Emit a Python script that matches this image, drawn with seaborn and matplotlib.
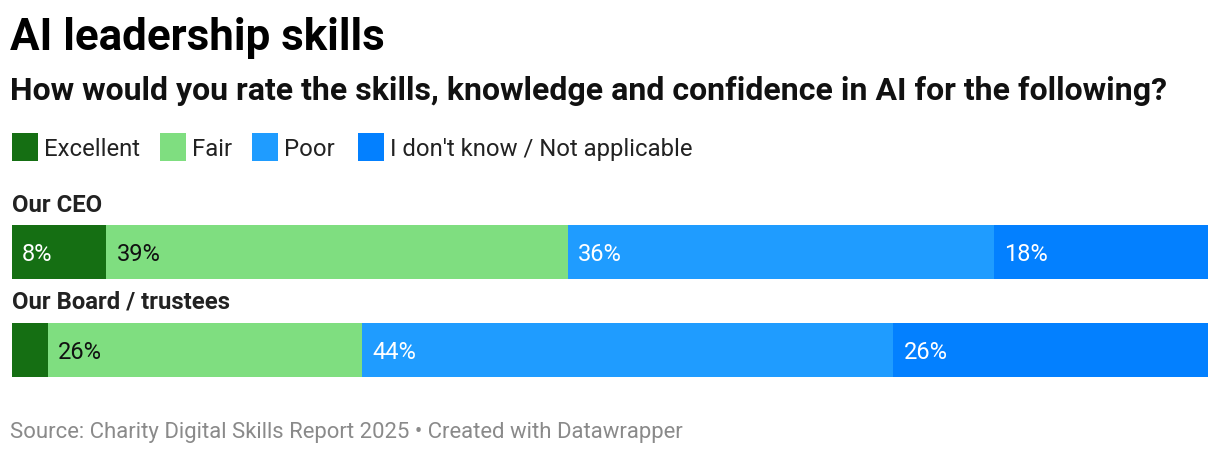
import matplotlib
matplotlib.use("Agg")
import matplotlib.pyplot as plt
import matplotlib.transforms as mtransforms
from matplotlib.patches import Rectangle
import seaborn as sns
import pandas as pd
import numpy as np

# ---- data ----
categories = ["Our CEO", "Our Board / trustees"]
series = ["Excellent", "Fair", "Poor", "I don't know / Not applicable"]
excellent = [7.9, 3.0]
fair = [38.6, 26.3]
poor = [35.6, 44.4]
dont_know = [17.9, 26.3]
colors = ["#156f13", "#7fde80", "#1f9cff", "#0380ff"]
label_colors = ["white", "#111111", "white", "white"]

sns.set_theme(style="white")
plt.rcParams["font.family"] = ["Roboto", "DejaVu Sans"]

W, H = 1220, 456
fig = plt.figure(figsize=(W / 100, H / 100), dpi=100)

def fx(px):
    return px / W

def fy(py):
    return 1 - py / H

# axes covering bar area
x0, x1 = 12, 1208
y_top, y_bot = 226, 378
ax = fig.add_axes([fx(x0), fy(y_bot), fx(x1 - x0), (y_bot - y_top) / H])

vals = [excellent, fair, poor, dont_know]
cum = np.cumsum(np.array(vals), axis=0)  # shape (4, 2)
total = cum[-1]

# draw from the largest cumulative to smallest so layers overlay
for i in range(len(series) - 1, -1, -1):
    df = pd.DataFrame({"cat": categories, "val": cum[i]})
    sns.barplot(data=df, x="val", y="cat", orient="h", color=colors[i],
                width=0.551, saturation=1, ax=ax, linewidth=0, edgecolor="none")

ax.set_xlim(0, max(total))
ax.set_ylim(1.2755, -0.2755)
ax.axis("off")

# value labels
offset = mtransforms.ScaledTranslation(10 / 100, 0, fig.dpi_scale_trans)
for i in range(len(series)):
    for j in range(len(categories)):
        v = vals[i][j]
        if v < 5:
            continue
        left = cum[i][j] - v
        ax.text(left, j + 0.02, f"{round(v):d}%", ha="left", va="center",
                fontsize=17, color=label_colors[i],
                transform=ax.transData + offset)

# row labels
row_label_y = [212, 309]
for cat, yb in zip(categories, row_label_y):
    fig.text(fx(12), fy(yb), cat, fontsize=17.2, fontweight="bold", color="#222222",
             ha="left", va="baseline")

# title & subtitle
fig.text(fx(10), fy(50), "AI leadership skills", fontsize=31.6, fontweight="bold",
         color="#000000", ha="left", va="baseline")
fig.text(fx(10), fy(100), "How would you rate the skills, knowledge and confidence in AI for the following?",
         fontsize=23, fontweight="bold", color="#111111", ha="left", va="baseline")

# legend
leg_sq_x = [12, 160, 252, 358]
for name, c, sx in zip(series, colors, leg_sq_x):
    fig.patches.append(Rectangle((fx(sx), fy(162)), fx(26), 28 / H, transform=fig.transFigure,
                                 facecolor=c, edgecolor="none"))
    fig.text(fx(sx + 32), fy(156), name, fontsize=17.2, color="#222222", ha="left", va="baseline")

# source
fig.text(fx(10), fy(438), "Source: Charity Digital Skills Report 2025 \u2022 Created with Datawrapper",
         fontsize=15.9, color="#8a8a8a", ha="left", va="baseline")

fig.savefig("out.png", dpi=100, facecolor="white")
